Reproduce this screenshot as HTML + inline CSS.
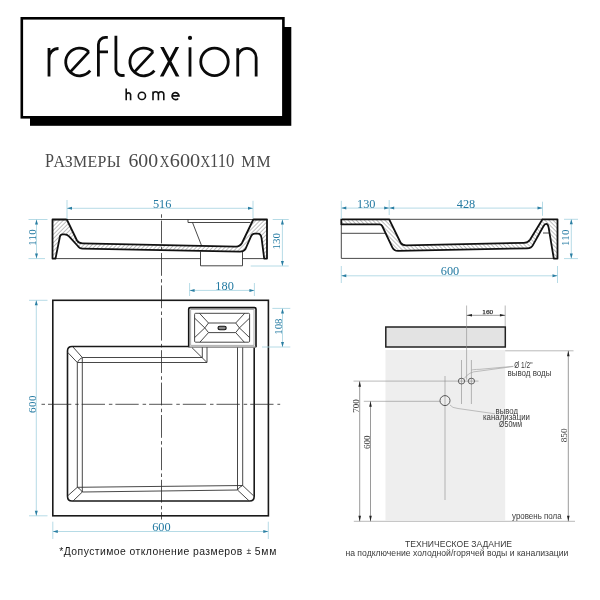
<!DOCTYPE html>
<html><head><meta charset="utf-8">
<style>
html,body{margin:0;padding:0;background:#fff;width:600px;height:600px;overflow:hidden}
svg{display:block;will-change:transform}
.serif{font-family:"Liberation Serif",serif}
.sans{font-family:"Liberation Sans",sans-serif}
.dim{stroke:#a3d2e0;stroke-width:0.8;fill:none}
.dt{fill:#237aa2;font-family:"Liberation Serif",serif;font-size:11.5px}
.arr{fill:#2b7fa3}
.thk{stroke:#1a1a1a;stroke-width:1.6;fill:none}
.thn{stroke:#333;stroke-width:0.9;fill:none}
.logo{stroke:#0a0a0a;stroke-width:2.8;fill:none}
.home{stroke:#111;stroke-width:1.6;fill:none}
</style></head><body>
<svg width="600" height="600" viewBox="0 0 600 600">
<defs>
<pattern id="hatch" patternUnits="userSpaceOnUse" width="2.9" height="2.9" patternTransform="rotate(45)">
<rect width="2.9" height="2.9" fill="#fff"/>
<line x1="0" y1="0" x2="0" y2="2.9" stroke="#707070" stroke-width="0.9"/>
</pattern>
<pattern id="hatch2" patternUnits="userSpaceOnUse" width="2.9" height="2.9" patternTransform="rotate(-45)">
<rect width="2.9" height="2.9" fill="#fff"/>
<line x1="0" y1="0" x2="0" y2="2.9" stroke="#707070" stroke-width="0.9"/>
</pattern>
</defs>
<!-- LOGO -->
<rect x="30" y="27" width="261.3" height="98.8" fill="#000"/>
<rect x="21.8" y="18.3" width="261.6" height="99" fill="#fff" stroke="#000" stroke-width="2.6"/>
<g class="logo">
<path d="M49,48V76.6M49,58A9.5,9.5 0 0 1 58.5,48.5"/>
<path d="M88.9,51.9A13.8,13.8 0 1 0 90.2,70.7M88.9,51.9L70.1,72.1"/>
<path d="M98.4,76.6V44.4A7,7 0 0 1 105.4,37.4H107.8M98.4,51.9H108"/>
<path d="M115.9,35.8V69.5A6,6 0 0 0 121.9,75.5L124.6,75.3"/>
<path d="M153.1,51.9A13.8,13.8 0 1 0 154.4,70.7M153.1,51.9L134.3,72.1"/>
<path d="M160.2,47H163.8L179.4,76.6H175.8ZM175.5,47H179.1L163.5,76.6H159.9Z" fill="#0a0a0a" stroke="none"/>
<path d="M190,47.3V76.6"/>
<circle cx="214.5" cy="61.8" r="13.75"/>
<path d="M237.75,48.3V76.6M237.75,57.6A9.2,9.2 0 0 1 256.15,57.6V76.6"/>
</g>
<circle cx="190" cy="37.9" r="2.1" fill="#0a0a0a"/>
<g class="home">
<path d="M126.2,88.5V100.3M126.2,94.5A2.3,2.3 0 0 1 130.6,94.5V100.3"/>
<circle cx="141.9" cy="95.9" r="3.6"/>
<path d="M153,91.5V100.3M153,94.5A2.7,2.7 0 0 1 158.4,94.5V100.3M158.4,94.5A2.7,2.7 0 0 1 163.8,94.5V100.3"/>
<path d="M172.1,95.9H179A3.5,3.5 0 1 0 178.2,98.4"/>
</g>

<!-- HEADING -->
<g class="serif" fill="#4a4a4a" id="hdg">
<text x="45" y="166.8" font-size="19" textLength="9" lengthAdjust="spacingAndGlyphs">Р</text>
<text x="53.5" y="166.8" font-size="15.9" textLength="67" lengthAdjust="spacing">АЗМЕРЫ</text>
<text x="128.5" y="167" font-size="19.8" textLength="29.6" lengthAdjust="spacingAndGlyphs">600</text>
<text x="159.8" y="166.8" font-size="15.9" textLength="9.6" lengthAdjust="spacingAndGlyphs">Х</text>
<text x="169.8" y="167" font-size="19.8" textLength="30.4" lengthAdjust="spacingAndGlyphs">600</text>
<text x="200.6" y="166.8" font-size="15.9" textLength="9.6" lengthAdjust="spacingAndGlyphs">Х</text>
<text x="210" y="167" font-size="19.8" textLength="24.4" lengthAdjust="spacingAndGlyphs">110</text>
<text x="241.3" y="166.8" font-size="15.9" textLength="29.4" lengthAdjust="spacing">ММ</text>
</g>
<!-- SECTION LEFT -->
<g id="secL">
<line x1="52.5" y1="219.5" x2="267" y2="219.5" class="thn"/>
<path class="thn" d="M55,258.6H200.5M242.5,258.6H264"/>
<path class="thn" d="M188,219.5V222.5H250.5M192.5,222.5L201.5,245.5"/>
<path class="thn" d="M200.5,251.5V265.8H242.5V251.5"/>
<path fill="url(#hatch)" stroke="#111" stroke-width="1.8" stroke-linejoin="round" d="M52.5,219.5H66.8L77,240.5Q78.8,243.4 82.5,243.4L236,246.6Q240,246.6 242,243L253.3,219.5H267V258.6H264.2L261.6,238.3Q260.9,233.6 257.8,233.6H254.8Q252.3,233.6 251,236.4L245.5,249Q243.8,251.6 240,251.6L82.5,248.6Q79.5,248.6 77.8,246L68.8,236.2Q67.3,234.3 64.5,234.3H62.5Q60.2,234.3 59.8,237.2L55.5,258.6H52.5Z"/>
</g>
<!-- center line vertical -->
<line x1="161.5" y1="214.3" x2="161.5" y2="519.5" stroke="#2a2a2a" stroke-width="0.8" stroke-dasharray="3.5 2.8 22.8 3.3"/>
<!-- dims section left -->
<g>
<path class="dim" d="M28.5,219.5H47.5M28.5,258.6H45M36.5,219.5V258.6"/>
<path class="arr" d="M36.5,219.5L35,224.5H38Z M36.5,258.6L35,253.6H38Z"/>
<text class="dt" style="font-size:11px" textLength="16.4" lengthAdjust="spacing" transform="translate(35.6,237.5) rotate(-90)" text-anchor="middle">110</text>
<path class="dim" d="M67,200V219M253,200.8V218.3M67,208.3H253"/>
<path class="arr" d="M67,208.3L72,206.8V209.8Z M253,208.3L248,206.8V209.8Z"/>
<text class="dt" style="font-size:12.3px" x="162.2" y="207.7" text-anchor="middle">516</text>
<path class="dim" d="M272.7,219.5H288.7M250.7,266H288.7M282.4,219.5V266"/>
<path class="arr" d="M282.4,219.5L280.9,224.5H283.9Z M282.4,266L280.9,261H283.9Z"/>
<text class="dt" style="font-size:11px" textLength="16.4" lengthAdjust="spacing" transform="translate(280,241.3) rotate(-90)" text-anchor="middle">130</text>
</g>
<!-- SIDE VIEW RIGHT -->
<g id="secR">
<line x1="389" y1="219.3" x2="543" y2="219.3" class="thn"/>
<path class="thn" d="M341.3,224V258.4H553.8M341.3,233.3H385.5M543,233H549.7"/>
<path fill="url(#hatch2)" stroke="#111" stroke-width="1.8" stroke-linejoin="round" d="M341.3,219.3H389.2L400.5,242.5Q402,245.3 406,245.3L524,242.8Q528,242.8 530,239.8L542.5,219.3H557.5V258.6H553.8L548.6,227.3Q548,223.8 546.2,223.8Q544.6,223.8 543.3,226.5L533.2,244.6Q531.5,248.3 527,248.3L398,250.9Q394,250.9 392.3,247.3L382.2,226Q381.3,224.3 379.5,224.3H341.3Z"/>
</g>
<g>
<path class="dim" d="M341.3,200.8V219M389.2,200V215M542.5,201.7V215.8M341.3,208.1H542.5"/>
<path class="arr" d="M341.3,208.1L346.3,206.6V209.6Z M389.2,208.1L384.2,206.6V209.6Z M389.2,208.1L394.2,206.6V209.6Z M542.5,208.1L537.5,206.6V209.6Z"/>
<text class="dt" style="font-size:12.3px" x="366.3" y="207.6" text-anchor="middle">130</text>
<text class="dt" style="font-size:12.3px" x="466" y="207.6" text-anchor="middle">428</text>
<path class="dim" d="M564,219.3H578M564,258.6H578M571.3,219.3V258.6"/>
<path class="arr" d="M571.3,219.3L569.8,224.3H572.8Z M571.3,258.6L569.8,253.6H572.8Z"/>
<text class="dt" style="font-size:11px" textLength="16.4" lengthAdjust="spacing" transform="translate(569.3,237.8) rotate(-90)" text-anchor="middle">110</text>
<path class="dim" d="M341.3,266V283M557.5,266V283M341.3,275.8H557.5"/>
<path class="arr" d="M341.3,275.8L346.3,274.3V277.3Z M557.5,275.8L552.5,274.3V277.3Z"/>
<text class="dt" style="font-size:12.3px" x="450" y="275.3" text-anchor="middle">600</text>
</g>
<!-- PLAN VIEW -->
<g id="plan">
<rect x="52.8" y="300.3" width="215.6" height="215.5" class="thk"/>
<path class="thk" d="M188.7,346.5H72Q67.5,346.5 67.5,351V496.3Q67.5,501 72,501H249.7Q254.2,501 254.2,496.3V347.3"/>
<rect x="188.7" y="307.6" width="67.3" height="39.7" fill="#fff"/><path d="M188.7,347.3V309.1Q188.7,307.6 190.2,307.6H254.5Q256,307.6 256,309.1V347.3" fill="none" stroke="#111" stroke-width="1.6"/><path d="M188.7,347.1H256" stroke="#777" stroke-width="1.4"/>
<rect x="190.7" y="309.6" width="63.3" height="35.7" fill="none" stroke="#999" stroke-width="0.8"/>
<rect x="194.6" y="313.3" width="55" height="28.9" rx="1" class="thn"/>
<path class="thn" d="M204.8,327.9L208.5,323H235.7L239.4,327.9L235.7,332.6H208.5Z M199.5,313.3L208.5,323M194.6,318.1L204.8,327.9M194.6,337.6L204.8,327.9M199.9,342.2L208.5,332.6 M244.7,313.3L235.7,323M249.6,318.1L239.4,327.9M249.6,337.6L239.4,327.9M244.3,342.2L235.7,332.6"/>
<rect x="218" y="326.3" width="8.2" height="3.4" rx="1.7" fill="#888" stroke="#111" stroke-width="1.1"/>
<!-- inner bottom -->
<path class="thn" d="M207,347.2V362.5H77.3V487.3L242.7,485.5V347.5M202.3,347.2V357.5H82.3V492L237.5,490V347.5"/>
<path class="thn" d="M73,347L82.3,357.5M67.6,352.3L77.3,362.5M82.3,357.5Q79,359 77.3,362.5M192,347.7L207,362.5 M77.3,487.3L67.7,495.8M82.3,492L73,501M77.3,487.3Q80.5,489 82.3,492 M242.7,485.5L253.8,496M237.5,490L249,500.8M242.7,485.5Q239,487 237.5,490"/>
</g>
<line x1="41.5" y1="404.3" x2="280.2" y2="404.3" stroke="#2a2a2a" stroke-width="0.8" stroke-dasharray="3.5 3 23.3 3.9"/>
<g>
<path class="dim" d="M29,300.3H47.5M29,515.8H47.5M36.3,300.3V515.8"/>
<path class="arr" d="M36.3,300.3L34.8,305.3H37.8Z M36.3,515.8L34.8,510.8H37.8Z"/>
<text class="dt" style="font-size:11px" textLength="17.4" lengthAdjust="spacing" transform="translate(35.9,404.3) rotate(-90)" text-anchor="middle">600</text>
<path class="dim" d="M52.8,521.7V539M268.3,521.7V539M52.8,531.5H268.3"/>
<path class="arr" d="M52.8,531.5L57.8,530V533Z M268.3,531.5L263.3,530V533Z"/>
<text class="dt" style="font-size:12.3px" x="161.4" y="530.9" text-anchor="middle">600</text>
<path class="dim" d="M189.6,283V296M254.4,283V296M189.6,290.4H254.4"/>
<path class="arr" d="M189.6,290.4L194.6,288.9V291.9Z M254.4,290.4L249.4,288.9V291.9Z"/>
<text class="dt" style="font-size:12.3px" x="224.6" y="290" text-anchor="middle">180</text>
<path class="dim" d="M272.4,308.4H290.3M262,347H290.3M282.5,308.4V347"/>
<path class="arr" d="M282.5,308.4L281,313.4H284Z M282.5,347L281,342H284Z"/>
<text class="dt" style="font-size:11px" textLength="16.4" lengthAdjust="spacing" transform="translate(282,326.6) rotate(-90)" text-anchor="middle">108</text>
</g>
<g class="sans" fill="#1a1a1a" id="foot"><text x="59.3" y="554.5" font-size="10.4" textLength="183" lengthAdjust="spacing">*Допустимое отклонение размеров</text>
<text x="246.6" y="554.3" font-size="8.6">±</text>
<text x="254.8" y="554.5" font-size="10.4" textLength="21.6" lengthAdjust="spacing">5мм</text></g>
<!-- SPEC -->
<g id="spec">
<rect x="385.5" y="350" width="119.7" height="170.3" fill="#eeeeee"/>
<rect x="385.8" y="327" width="119.5" height="20" fill="#e3e3e3" stroke="#222" stroke-width="1.5"/>
<path stroke="#8a8a8a" stroke-width="0.6" fill="none" d="M353.5,381.1H478.5M363.8,401.3H440M353.8,521.3H575M505.2,350.8H573.5M466.6,305.5V379.7M505.2,305.5V326M445,376V500M461.5,360V404M471.4,360V404"/>
<ellipse cx="461.5" cy="381.1" rx="3.2" ry="2.9" fill="none" stroke="#444" stroke-width="0.8"/>
<ellipse cx="471.4" cy="381.1" rx="3.2" ry="2.9" fill="none" stroke="#444" stroke-width="0.8"/>
<circle cx="445" cy="400.6" r="5" fill="none" stroke="#333" stroke-width="0.8"/>
<path stroke="#999" stroke-width="0.6" fill="none" d="M471.4,370.2Q472,369.5 480,369.3L513.3,366.3M464.2,378.6Q469,371.5 478,371.3L513.3,366.5M450,405Q452,408 458,408.5L495,413.8"/>
<path stroke="#555" stroke-width="0.6" fill="none" d="M359.7,381.3V521.3M370.5,401.3V521.3M568.3,350.8V521.3M466.7,315.3H505.2"/>
<path fill="#222" d="M359.7,381.3L358.4,386.8H361Z M359.7,521.3L358.4,515.8H361Z M370.5,401.3L369.2,406.8H371.8Z M370.5,521.3L369.2,515.8H371.8Z M568.3,350.8L567,356.3H569.6Z M568.3,521.3L567,515.8H569.6Z M466.7,315.3L472,314V316.6Z M505.2,315.3L499.9,314V316.6Z"/>
<text class="serif" font-size="9" fill="#333" transform="translate(358.6,399.2) rotate(-90)" text-anchor="end" textLength="13.6" lengthAdjust="spacingAndGlyphs">700</text>
<text class="serif" font-size="9" fill="#333" transform="translate(370.2,435.5) rotate(-90)" text-anchor="end" textLength="13.6" lengthAdjust="spacingAndGlyphs">600</text>
<text class="serif" font-size="9" fill="#333" transform="translate(566.9,428.5) rotate(-90)" text-anchor="end" textLength="13.8" lengthAdjust="spacingAndGlyphs">850</text>
<text class="serif" font-size="7" fill="#333" stroke="#333" stroke-width="0.25" x="482.3" y="313.8" textLength="10.9" lengthAdjust="spacingAndGlyphs">160</text>
<g class="sans" font-size="8.6" fill="#3a3a3a">
<text x="514.2" y="367.5" textLength="18.3" lengthAdjust="spacingAndGlyphs">Ø 1/2"</text>
<text x="507.5" y="375.6" textLength="44" lengthAdjust="spacingAndGlyphs">вывод воды</text>
<text x="495.6" y="413.8" textLength="22.4" lengthAdjust="spacingAndGlyphs">вывод</text>
<text x="483" y="420" font-size="8.2" textLength="47" lengthAdjust="spacingAndGlyphs">канализации</text>
<text x="499" y="427.2" textLength="23" lengthAdjust="spacingAndGlyphs">Ø50мм</text>
<text x="512" y="518.8" textLength="49.6" lengthAdjust="spacingAndGlyphs">уровень пола</text>
<text x="405" y="546.9" font-size="9.6" textLength="107" lengthAdjust="spacingAndGlyphs">ТЕХНИЧЕСКОЕ ЗАДАНИЕ</text>
<text x="345.4" y="555.6" font-size="9.4" textLength="223" lengthAdjust="spacingAndGlyphs">на подключение холодной/горячей воды и канализации</text>
</g>
</g>
</svg>
</body></html>
